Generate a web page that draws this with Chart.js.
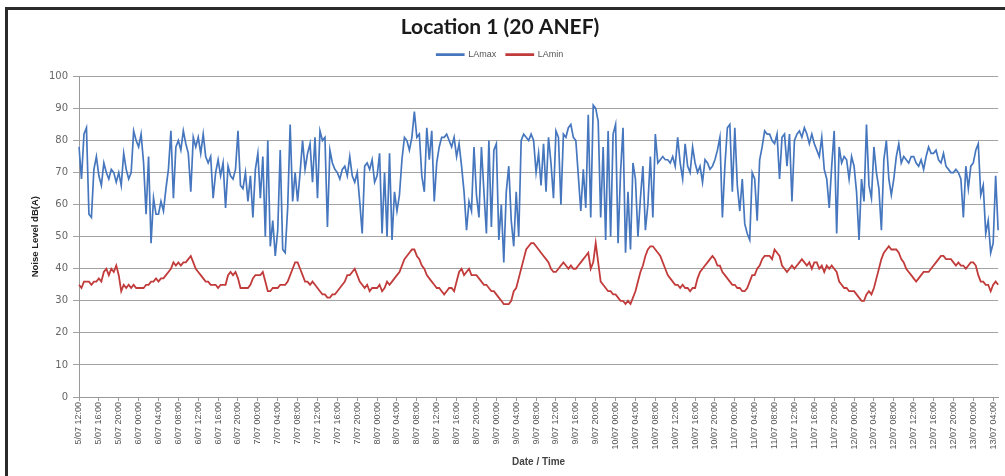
<!DOCTYPE html>
<html>
<head>
<meta charset="utf-8">
<title>Location 1 (20 ANEF)</title>
<script src="https://cdn.jsdelivr.net/npm/chart.js@4.4.0/dist/chart.umd.min.js"></script>
<style>
    html, body { margin: 0; padding: 0; background: #fff; overflow: hidden; }
    #wrap { position: relative; width: 1005px; height: 476px; overflow: hidden; }
    #frame { position: absolute; left: 5px; top: 7px; width: 1100px; height: 600px; border: 3px solid #2b2b2b; }
    #chart { position: absolute; left: 0; top: 0; }
</style>
</head>
<body>
<div id="wrap">
    <div id="frame"></div>
    <canvas id="chart" width="1005" height="476"></canvas>
</div>
<script>
// tick labels, one every 4 hours
const tickLabels = [
    '5/07 12:00', '5/07 16:00', '5/07 20:00',
    '6/07 00:00', '6/07 04:00', '6/07 08:00', '6/07 12:00', '6/07 16:00', '6/07 20:00',
    '7/07 00:00', '7/07 04:00', '7/07 08:00', '7/07 12:00', '7/07 16:00', '7/07 20:00',
    '8/07 00:00', '8/07 04:00', '8/07 08:00', '8/07 12:00', '8/07 16:00', '8/07 20:00',
    '9/07 00:00', '9/07 04:00', '9/07 08:00', '9/07 12:00', '9/07 16:00', '9/07 20:00',
    '10/07 00:00', '10/07 04:00', '10/07 08:00', '10/07 12:00', '10/07 16:00', '10/07 20:00',
    '11/07 00:00', '11/07 04:00', '11/07 08:00', '11/07 12:00', '11/07 16:00', '11/07 20:00',
    '12/07 00:00', '12/07 04:00', '12/07 08:00', '12/07 12:00', '12/07 16:00', '12/07 20:00',
    '13/07 00:00', '13/07 04:00'
];

// half-hourly readings, dB(A), one row per 4 hours
const laMax = [
    78, 68, 82, 84, 57, 56, 71, 75,
    69, 66, 73, 70, 68, 71, 70, 67,
    70, 66, 76, 71, 68, 70, 83, 80,
    78, 82, 73, 57, 75, 48, 62, 57,
    57, 61, 58, 65, 71, 83, 62, 78,
    80, 77, 83, 79, 76, 64, 81, 78,
    81, 76, 82, 75, 73, 75, 62, 70,
    74, 69, 73, 59, 72, 69, 68, 71,
    83, 66, 65, 70, 61, 69, 56, 71,
    76, 62, 75, 50, 80, 47, 55, 44,
    52, 77, 46, 45, 59, 85, 61, 70,
    61, 70, 80, 71, 76, 79, 67, 81,
    62, 83, 80, 81, 53, 77, 73, 71,
    70, 68, 71, 72, 69, 75, 69, 67,
    70, 61, 51, 72, 73, 71, 74, 67,
    69, 76, 51, 70, 50, 76, 49, 64,
    58, 63, 74, 81, 80, 77, 81, 89,
    81, 82, 69, 64, 84, 74, 83, 61,
    73, 78, 81, 81, 82, 80, 78, 81,
    75, 79, 72, 64, 52, 61, 58, 78,
    63, 56, 78, 64, 51, 80, 53, 77,
    79, 49, 60, 42, 64, 72, 55, 47,
    64, 50, 80, 82, 81, 80, 82, 80,
    70, 76, 66, 79, 64, 81, 73, 62,
    83, 81, 60, 82, 81, 84, 85, 81,
    80, 69, 58, 71, 59, 88, 56, 91,
    90, 86, 56, 78, 49, 83, 50, 82,
    85, 48, 70, 84, 45, 64, 46, 73,
    68, 50, 62, 72, 52, 60, 75, 56,
    82, 73, 74, 75, 74, 74, 73, 75,
    72, 81, 73, 68, 79, 72, 70, 78,
    73, 70, 72, 67, 74, 73, 71, 72,
    74, 77, 81, 56, 72, 84, 85, 64,
    84, 66, 58, 68, 54, 51, 49, 70,
    68, 55, 74, 78, 83, 82, 82, 80,
    79, 82, 68, 81, 82, 72, 82, 61,
    80, 82, 83, 81, 84, 82, 79, 82,
    79, 77, 75, 81, 71, 68, 59, 72,
    83, 51, 78, 73, 75, 74, 68, 75,
    72, 64, 49, 68, 61, 85, 66, 62,
    78, 70, 65, 52, 74, 80, 68, 63,
    68, 75, 79, 73, 75, 74, 73, 75,
    75, 73, 72, 74, 71, 75, 78, 76,
    76, 77, 74, 73, 76, 72, 71, 70,
    70, 71, 70, 68, 56, 72, 65, 72,
    73, 77, 79, 63, 66, 51, 55, 45,
    48, 69, 52
];

const laMin = [
    35, 34, 36, 36, 36, 35, 36, 36,
    37, 36, 39, 40, 38, 40, 39, 41,
    38, 33, 35, 34, 35, 34, 35, 34,
    34, 34, 34, 35, 35, 36, 36, 37,
    36, 37, 37, 38, 39, 40, 42, 41,
    42, 41, 42, 42, 43, 44, 42, 40,
    39, 38, 37, 36, 36, 35, 35, 35,
    34, 35, 35, 35, 38, 39, 38, 39,
    37, 34, 34, 34, 34, 35, 37, 38,
    38, 38, 39, 36, 33, 33, 34, 34,
    34, 35, 35, 35, 36, 38, 40, 42,
    42, 40, 38, 36, 36, 35, 36, 35,
    34, 33, 32, 32, 31, 31, 32, 32,
    33, 34, 35, 36, 38, 38, 39, 40,
    38, 36, 35, 34, 35, 33, 34, 34,
    34, 35, 33, 34, 36, 35, 36, 37,
    38, 39, 41, 43, 44, 45, 46, 46,
    44, 43, 41, 40, 38, 37, 36, 35,
    34, 34, 33, 32, 33, 34, 34, 33,
    36, 39, 40, 38, 39, 40, 38, 38,
    38, 37, 36, 35, 35, 34, 33, 33,
    32, 31, 30, 29, 29, 29, 30, 33,
    34, 37, 40, 43, 46, 47, 48, 48,
    47, 46, 45, 44, 43, 42, 40, 39,
    39, 40, 41, 42, 41, 40, 41, 40,
    40, 41, 42, 43, 44, 45, 40, 42,
    48, 42, 36, 35, 34, 33, 33, 32,
    32, 31, 30, 30, 29, 30, 29, 31,
    33, 36, 39, 41, 44, 46, 47, 47,
    46, 45, 44, 42, 40, 38, 37, 36,
    35, 35, 34, 35, 34, 34, 33, 34,
    34, 37, 39, 40, 41, 42, 43, 44,
    43, 41, 41, 39, 38, 37, 36, 35,
    35, 34, 34, 33, 33, 34, 36, 38,
    38, 40, 41, 43, 44, 44, 44, 43,
    46, 45, 44, 41, 40, 39, 40, 41,
    40, 41, 42, 43, 42, 41, 42, 40,
    42, 42, 40, 41, 39, 41, 40, 41,
    40, 39, 36, 35, 34, 34, 33, 33,
    33, 32, 31, 30, 30, 32, 33, 32,
    34, 37, 40, 43, 45, 46, 47, 46,
    46, 46, 45, 43, 42, 40, 39, 38,
    37, 36, 37, 38, 39, 39, 39, 40,
    41, 42, 43, 44, 44, 43, 43, 43,
    42, 41, 42, 41, 41, 40, 41, 42,
    42, 41, 38, 36, 36, 35, 35, 33,
    35, 36, 35
];

const blue = '#4677be';
const red = '#c23b3b';

// every 8th half-hour slot carries a tick label, the rest stay blank
const categories = laMax.map((v, i) => (i % 8 === 0 ? tickLabels[i / 8] : ''));

new Chart(document.getElementById('chart'), {
    type: 'line',
    data: {
        labels: categories,
        datasets: [
            { label: 'LAmax', data: laMax, borderColor: blue, backgroundColor: blue, borderWidth: 1.7, pointRadius: 0, tension: 0 },
            { label: 'LAmin', data: laMin, borderColor: red, backgroundColor: red, borderWidth: 1.8, pointRadius: 0, tension: 0 }
        ]
    },
    options: {
        responsive: false,
        animation: false,
        layout: { padding: { left: 0, right: 5, top: 0, bottom: 0 } },
        plugins: {
            title: {
                display: true,
                text: 'Location 1 (20 ANEF)',
                color: '#1a1a1a',
                font: { family: 'Lato', size: 21, weight: 'bold' },
                padding: { top: 15, bottom: 0 }
            },
            // empty spacer between legend and plot
            subtitle: {
                display: true,
                text: ' ',
                weight: 500,
                font: { size: 6 },
                padding: 0
            },
            legend: {
                labels: {
                    boxWidth: 27,
                    boxHeight: 1,
                    padding: 10,
                    color: '#555',
                    font: { family: 'Liberation Sans', size: 9 }
                }
            },
            tooltip: { enabled: false }
        },
        scales: {
            x: {
                grid: { drawOnChartArea: false, drawTicks: true, tickLength: 4, color: '#999' },
                border: { color: '#999' },
                ticks: {
                    autoSkip: false,
                    minRotation: 90,
                    maxRotation: 90,
                    padding: 1,
                    color: '#555',
                    font: { family: 'Liberation Sans', size: 9 },
                    callback: function (value) {
                        const label = this.getLabelForValue(value);
                        return label === '' ? null : label;
                    }
                },
                title: {
                    display: true,
                    text: 'Date / Time',
                    color: '#444',
                    font: { family: 'Liberation Sans', size: 10, weight: 'bold' },
                    padding: { top: 2, bottom: 8 }
                },
                afterFit: scale => { scale.height = 79; }
            },
            y: {
                min: 0,
                max: 100,
                grid: { color: '#a3a3a3', tickLength: 6 },
                border: { color: '#999' },
                ticks: {
                    stepSize: 10,
                    padding: 5,
                    color: '#666',
                    font: { family: 'DejaVu Sans', size: 10 }
                },
                title: {
                    display: true,
                    text: 'Noise Level dB(A)',
                    color: '#222',
                    font: { family: 'Liberation Sans', size: 9.5, weight: 'bold' },
                    padding: { top: 30, bottom: 0 }
                },
                afterFit: scale => { scale.width = 79; }
            }
        }
    }
});
</script>
</body>
</html>
